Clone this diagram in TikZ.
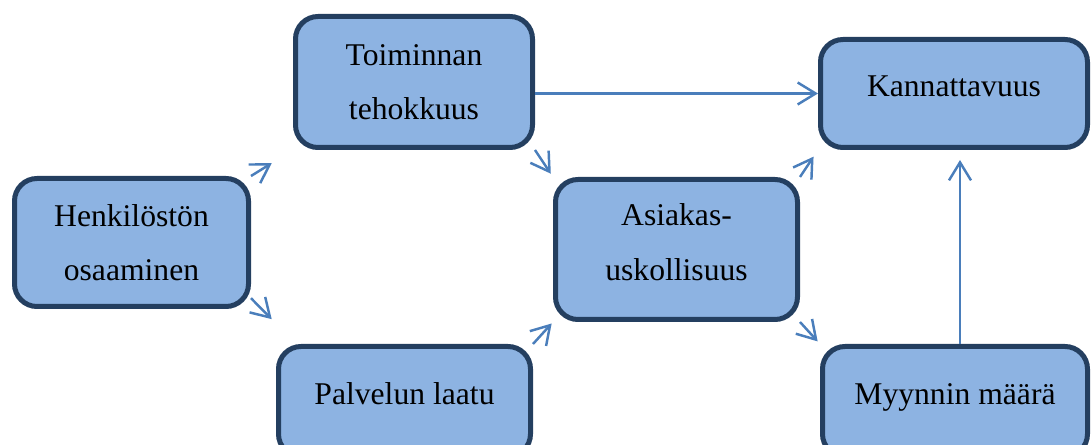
\documentclass[tikz,border=0pt]{standalone}
\usepackage{fontspec}
\setmainfont{Liberation Serif}
\usetikzlibrary{arrows.meta}
\definecolor{boxfill}{HTML}{8DB3E2}
\definecolor{boxline}{HTML}{243F60}
\definecolor{flowblue}{HTML}{4A7EBB}

\begin{document}
\begin{tikzpicture}[->, >={Straight Barb[length=3.6mm,width=4.4mm]}, flowblue, line width=1.4pt,
  box/.style={rectangle, rounded corners=0.45cm, draw=boxline, line width=0.1cm, fill=boxfill,
    text=black, align=center, font=\fontsize{18}{31}\selectfont},
  lifted/.style={text depth=0.3cm}]
\path[use as bounding box, clip] (0,0) rectangle (21.84,-8.90);

\node[box, minimum width=4.68cm, minimum height=2.56cm] (henk) at (2.63,-4.85) {Henkilöstön\\osaaminen};
\node[box, minimum width=4.74cm, minimum height=2.62cm] (toim) at (8.28,-1.64) {Toiminnan\\tehokkuus};
\node[box, lifted, minimum width=4.84cm, minimum height=2.80cm] (asiak) at (13.53,-4.99) {Asiakas-\\uskollisuus};
\node[box, lifted, minimum width=5.34cm, minimum height=2.16cm] (kann) at (19.08,-1.87) {Kannattavuus};
\node[box, lifted, minimum width=5.04cm, minimum height=2.20cm] (palv) at (8.09,-8.03) {Palvelun laatu};
\node[box, lifted, minimum width=5.30cm, minimum height=2.20cm] (myyn) at (19.10,-8.03) {Myynnin määrä};

\path
(henk.north east) edge [shorten >=0.5cm] (toim.south west)
(henk.-25) edge [shorten >=0.7cm] (palv.152)
(toim.south east) edge [shorten >=0.08cm] (asiak.north west)
(palv.north east) edge [shorten >=0.04cm] (asiak.south west)
(asiak.north east) edge [shorten >=0.16cm] (kann.south west)
(asiak.south east) edge [shorten >=0.07cm] (myyn.north west)
(toim.east |- kann.west) edge (kann.west)
([xshift=0.1cm]myyn.north) edge [shorten >=0.2cm] ([xshift=0.1cm]myyn.north |- kann.south);
\end{tikzpicture}
\end{document}
